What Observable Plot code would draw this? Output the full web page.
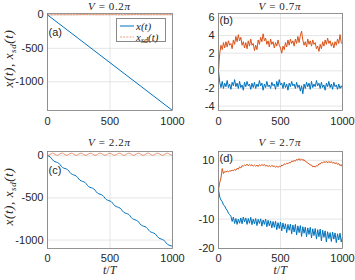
<!DOCTYPE html>
<html><head><meta charset="utf-8">
<script src="https://cdn.jsdelivr.net/npm/d3@7"></script>
<script src="https://cdn.jsdelivr.net/npm/@observablehq/plot@0.6"></script>
<style>
body{margin:0;background:white}
#chart{position:relative;width:355px;height:280px;overflow:hidden;background:white}
#chart svg{position:absolute;left:0;top:0}
.s{position:absolute;font-family:"Liberation Serif",serif;font-size:12px;line-height:9px;color:#262626;white-space:nowrap}
.s.title{font-size:11px;letter-spacing:0.6px}
.s i{font-style:italic}
.lab{position:absolute;font-family:"Liberation Sans",Arial,sans-serif;font-size:11px;line-height:11px;color:#262626}
.yl{position:absolute;width:90px;text-align:center;transform:rotate(-90deg);transform-origin:center center;font-family:"Liberation Serif",serif;font-style:italic;font-size:13px;line-height:13px;color:#262626;letter-spacing:0.6px;white-space:nowrap}
.yl sub{font-size:9px;vertical-align:-3px;line-height:0}
#legend{position:absolute;left:116px;top:18px;width:50px;height:24px;border:1px solid #8a8a8a;background:white;box-sizing:border-box}
#legend .row{position:absolute;left:0;height:12px;font-family:"Liberation Serif",serif;font-style:italic;font-size:11px;line-height:12px;color:#262626;white-space:nowrap}
#legend sub{font-size:8px;vertical-align:-2px;line-height:0}
</style></head><body><div id="chart"></div>
<script>
// sample times t/T
const T = [
0,10,20,30,40,50,60,70,80,90,
100,110,120,130,140,150,160,170,180,190,
200,210,220,230,240,250,260,270,280,290,
300,310,320,330,340,350,360,370,380,390,
400,410,420,430,440,450,460,470,480,490,
500,510,520,530,540,550,560,570,580,590,
600,610,620,630,640,650,660,670,680,690,
700,710,720,730,740,750,760,770,780,790,
800,810,820,830,840,850,860,870,880,890,
900,910,920,930,940,950,960,970,980,990,
1000];

// (a) V = 0.2π
const tA = [0, 250, 500, 750, 1000];
const xA = [0, -357, -715, -1072, -1430];
const tAsd = [0,100,200,300,400,500,600,700,800,900,1000];
const xsdA = [0, 3, 2, 5, 3, 4, 2, 5, 3, 4, 3];

// (b) V = 0.7π
const xB = [
0,-1.3,-1.9,-1.2,-2.0,-1.4,-1.8,-1.1,-1.9,-1.5,
-2.1,-1.3,-1.7,-1.0,-1.8,-1.4,-2.0,-1.2,-1.9,-1.6,
-2.2,-1.3,-1.8,-1.2,-1.7,-1.5,-2.1,-1.4,-1.9,-1.3,
-2.0,-1.5,-1.8,-1.1,-1.7,-1.4,-2.2,-1.5,-1.9,-1.2,
-1.8,-1.6,-2.0,-1.3,-1.7,-1.5,-2.1,-1.2,-1.8,-1.0,
-1.6,-1.4,-2.0,-1.3,-1.9,-1.5,-2.2,-1.4,-1.8,-1.2,
-1.7,-1.5,-2.0,-1.3,-1.9,-1.6,-2.3,-1.7,-2.6,-1.5,
-2.0,-1.3,-1.8,-1.4,-2.1,-1.2,-1.9,-1.5,-1.8,-1.1,
-1.7,-1.4,-2.0,-1.3,-1.9,-1.6,-2.2,-1.4,-1.8,-1.2,
-1.9,-1.5,-2.1,-1.3,-1.8,-1.6,-2.1,-1.5,-2.0,-1.7,
-2.0];
const xsdB = [
0,2.0,2.9,2.4,3.2,2.6,3.3,2.7,3.4,2.9,
3.1,2.5,3.5,3.0,3.9,3.3,4.1,3.4,3.8,2.9,
3.3,2.6,3.2,2.5,3.4,2.8,3.6,2.9,3.1,2.3,
2.9,2.4,3.5,3.0,3.8,3.3,4.2,3.4,3.7,3.0,
3.4,2.7,3.6,3.0,3.3,2.6,3.2,2.8,3.5,2.9,
2.6,2.0,2.8,2.4,3.2,2.7,3.5,2.9,3.6,3.1,
3.4,2.8,3.6,3.1,3.9,3.2,4.0,4.5,3.5,2.9,
3.3,2.7,3.6,3.0,3.4,2.8,3.5,3.0,3.2,2.5,
2.8,2.2,3.0,2.5,3.3,2.8,3.5,3.0,3.7,3.1,
3.4,2.8,3.2,2.6,3.3,2.9,3.6,3.1,4.1,3.2,
3.0];

// (c) V = 2.2π
const xC = [
0,-5,-13,-28,-48,-63,-71,-76,-81,-89,
-104,-124,-139,-147,-152,-157,-165,-180,-200,-215,
-223,-228,-233,-241,-256,-276,-291,-299,-304,-309,
-317,-332,-352,-367,-375,-380,-385,-393,-408,-428,
-443,-451,-456,-461,-469,-484,-504,-519,-527,-532,
-537,-545,-560,-580,-595,-603,-608,-613,-621,-636,
-656,-671,-679,-684,-689,-697,-712,-732,-747,-755,
-760,-765,-773,-788,-808,-823,-831,-836,-841,-849,
-864,-884,-899,-907,-912,-917,-925,-940,-960,-975,
-983,-988,-993,-1001,-1016,-1036,-1051,-1059,-1064,-1069,
-1077];
const xsdC = [
0,6,14,24,30,26,16,8,5,11,
21,29,30,22,13,7,8,16,26,30,
27,18,10,5,10,19,27,30,24,14,
7,7,13,22,29,29,21,11,5,8,
16,26,30,27,18,10,5,10,19,27,
30,24,14,7,7,13,22,29,29,21,
11,5,8,16,26,30,27,18,10,5,
10,19,27,30,24,14,7,7,13,22,
29,29,21,11,5,8,16,26,30,27,
18,10,5,10,19,27,30,24,14,7,
8];

// (d) V = 2.7π
const xD = [
0,-2.5,-3.5,-4.0,-5.2,-5.5,-6.5,-7.0,-8.0,-8.5,
-9.0,-10.8,-9.3,-11.5,-9.8,-11.8,-10.0,-11.4,-9.6,-11.6,
-9.3,-11.0,-9.6,-11.8,-9.8,-11.4,-9.4,-11.9,-10.0,-11.6,
-9.8,-12.2,-10.1,-11.5,-9.9,-12.4,-10.3,-11.8,-10.0,-12.6,
-10.4,-12.3,-10.6,-13.0,-10.8,-12.8,-10.7,-13.6,-11.2,-13.2,
-11.0,-14.0,-11.3,-13.4,-11.6,-14.6,-11.8,-13.8,-11.7,-15.0,
-12.0,-14.4,-11.8,-15.4,-12.3,-14.6,-12.2,-15.9,-12.6,-14.8,
-12.7,-16.0,-13.0,-15.2,-12.8,-16.4,-13.3,-15.6,-13.2,-16.8,
-13.6,-16.0,-13.4,-17.4,-13.8,-16.2,-14.0,-17.8,-14.3,-16.6,
-14.6,-17.6,-14.4,-16.8,-14.7,-18.0,-15.0,-17.1,-14.8,-17.8,
-16.0];
const xsdD = [
0,2.5,4.0,7.2,5.5,6.2,6.0,6.4,6.0,6.5,
6.3,6.7,6.4,6.9,6.6,7.3,7.0,7.8,7.4,8.2,
8.0,8.4,8.2,8.7,8.1,8.6,8.2,8.5,8.0,8.4,
8.0,8.4,7.9,8.5,8.1,8.6,8.2,8.6,8.0,8.3,
7.9,8.2,7.8,8.3,7.9,8.1,7.6,8.0,7.6,8.0,
7.8,8.4,8.2,8.8,8.6,9.0,8.8,9.3,9.1,9.7,
9.6,9.9,9.7,10.3,10.1,10.6,10.0,10.5,10.0,10.2,
9.6,9.5,9.0,8.9,8.4,8.4,7.8,8.0,7.7,8.2,
8.1,8.8,8.7,9.3,9.1,9.6,9.2,9.7,9.1,9.6,
9.2,9.6,9.0,9.3,8.9,9.2,8.6,8.9,8.2,8.5,
7.8];

const xTicks = [0, 500, 1000];
const titles = ["0.2", "0.7", "2.2", "2.7"];
const panelLabels = ["(a)", "(b)", "(c)", "(d)"];

const BLUE = "#0072BD", ORANGE = "#D95319";

const panels = [
  {ml:47, mr:183, mt:13, mb:170, yDomain:[-1430,21], yTicks:[0,-500,-1000], pad:7,
   lines:[{t:tA, v:xA, c:BLUE}, {t:tAsd, v:xsdA, c:ORANGE, dash:"2,1.2", op:0.6}]},
  {ml:218, mr:13, mt:13, mb:170, yDomain:[-4.5,6.5], yTicks:[6,4,2,0,-2,-4], pad:7,
   lines:[{t:T, v:xB, c:BLUE}, {t:T, v:xsdB, c:ORANGE}]},
  {ml:47, mr:183, mt:151, mb:32, yDomain:[-1100,50], yTicks:[0,-500,-1000], pad:6,
   lines:[{t:T, v:xC, c:BLUE}, {t:T, v:xsdC, c:ORANGE, op:0.6}]},
  {ml:218, mr:13, mt:151, mb:32, yDomain:[-20,13], yTicks:[10,0,-10,-20], pad:6,
   lines:[{t:T, v:xD, c:BLUE}, {t:T, v:xsdD, c:ORANGE}]}
];

const chart = document.getElementById("chart");

panels.forEach((p, k) => {
  const svg = Plot.plot({
    width: 355, height: 280,
    marginLeft: p.ml, marginRight: p.mr, marginTop: p.mt, marginBottom: p.mb,
    style: {background: "transparent", fontFamily: "Liberation Sans, Arial, sans-serif", fontSize: "11px", color: "#262626", overflow: "visible"},
    x: {domain: [0, 1000], label: null},
    y: {domain: p.yDomain, label: null},
    marks: [
      Plot.gridX(xTicks, {stroke: "#dedede", strokeOpacity: 1, strokeWidth: 0.8}),
      Plot.gridY(p.yTicks, {stroke: "#dedede", strokeOpacity: 1, strokeWidth: 0.8}),
      Plot.axisX(xTicks, {tickSize: 0, tickPadding: p.pad, tickFormat: d => String(d), fontSize: 11}),
      Plot.axisY(p.yTicks, {tickSize: 0, tickPadding: 4, tickFormat: d => String(d), fontSize: 11}),
      ...p.lines.map(l => Plot.lineY(l.v, {x: l.t, y: d => d, stroke: l.c, strokeWidth: 1,
        strokeOpacity: l.op ?? 1, strokeDasharray: l.dash, clip: true})),
      Plot.frame({stroke: "#7a7a7a", strokeWidth: 0.8})
    ]
  });
  chart.appendChild(svg);

  const x0 = p.ml, x1 = 355 - p.mr, y0 = p.mt, y1 = 280 - p.mb;
  const cx = (x0 + x1) / 2;

  // title
  const tt = document.createElement("div");
  tt.className = "s title";
  tt.innerHTML = `<i>V</i> = ${titles[k]}<i>π</i>`;
  chart.appendChild(tt);
  tt.style.left = (cx - tt.offsetWidth / 2) + "px";
  tt.style.top = (k < 2 ? 1.8 : 137.5) + "px";

  // panel label
  const pl = document.createElement("div");
  pl.className = "lab";
  pl.textContent = panelLabels[k];
  pl.style.left = (x0 + 1.5) + "px";
  pl.style.top = (k === 0 || k === 2 ? y0 + 13.5 : y0 + 1.5) + "px";
  chart.appendChild(pl);

  // y label for left panels
  if (k === 0 || k === 2) {
    const yl = document.createElement("div");
    yl.className = "yl";
    yl.innerHTML = `x(t), x<sub>sd</sub>(t)`;
    yl.style.left = (8 - 45) + "px";
    yl.style.top = ((y0 + y1) / 2 - 3 - 6.5) + "px";
    chart.appendChild(yl);
  }
  // x label for bottom panels
  if (k >= 2) {
    const xl = document.createElement("div");
    xl.className = "s";
    xl.innerHTML = `<i>t</i>/<i>T</i>`;
    chart.appendChild(xl);
    xl.style.left = (cx - xl.offsetWidth / 2) + "px";
    xl.style.top = "266px";
  }
});

// legend in panel (a)
const lg = document.createElement("div");
lg.id = "legend";
lg.innerHTML = `
<div class="row" style="top:0.5px"><svg width="17" height="12" style="position:absolute;left:3px;top:0"><line x1="0" x2="14" y1="6" y2="6" stroke="${BLUE}" stroke-width="1"/></svg><span style="position:absolute;left:19px">x(t)</span></div>
<div class="row" style="top:11.5px"><svg width="17" height="12" style="position:absolute;left:3px;top:0"><line x1="0" x2="14" y1="6" y2="6" stroke="${ORANGE}" stroke-opacity="0.55" stroke-dasharray="2,1.2" stroke-width="1"/></svg><span style="position:absolute;left:19px">x<sub>sd</sub>(t)</span></div>`;
chart.appendChild(lg);
</script></body></html>
